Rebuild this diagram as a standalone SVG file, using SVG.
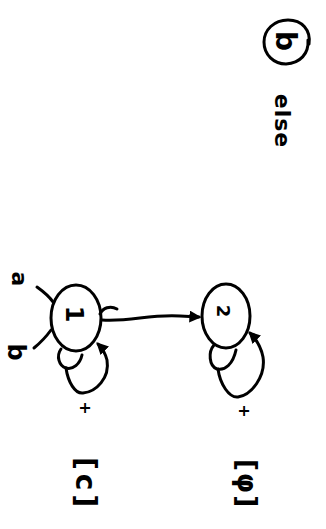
<svg xmlns="http://www.w3.org/2000/svg" width="326" height="529" viewBox="0 0 326 529">
  <style>
    .ink { fill: none; stroke: #000; stroke-width: 3; stroke-linecap: round; stroke-linejoin: round; }
    .hand { font-family: "DejaVu Sans", "Liberation Sans", sans-serif; font-weight: bold; fill: #000; }
  </style>
  <defs>
    <marker id="head" viewBox="0 0 10 10" refX="8" refY="5" markerWidth="4" markerHeight="4" orient="auto" markerUnits="strokeWidth">
      <path d="M0,0 L10,5 L0,10 Z" fill="#000"/>
    </marker>
  </defs>

  <!-- heading: circled "b" and "else", written sideways -->
  <g id="heading">
    <path class="ink" d="M309,44 C311,30 302,20 288,20 C274,20 264,30 264,42 C264,55 274,64 286,64 C300,63 309,54 308,40"/>
    <text class="hand" font-size="28" text-anchor="middle" transform="translate(276,41) rotate(90)">b</text>
    <text class="hand" font-size="22" letter-spacing="1" text-anchor="middle" transform="translate(275,121) rotate(90)">else</text>
  </g>

  <!-- state 1 -->
  <g id="node-1">
    <ellipse class="ink" cx="76" cy="318" rx="25" ry="33"/>
    <text class="hand" font-size="24" text-anchor="middle" transform="translate(66,314) rotate(90)">1</text>
  </g>

  <!-- state 2 -->
  <g id="node-2">
    <ellipse class="ink" cx="226" cy="316" rx="24" ry="32"/>
    <text class="hand" font-size="18" text-anchor="middle" transform="translate(217,311) rotate(90)">2</text>
  </g>

  <!-- transitions -->
  <g id="connectors">
    <!-- incoming strokes labelled a and b -->
    <path class="ink" d="M37,287 C44,292 49,296 53,302"/>
    <path class="ink" d="M34,348 C40,343 46,337 51,330"/>
    <!-- small hook on the right of state 1 -->
    <path class="ink" d="M100,314 C103,308 110,305 117,309"/>
    <!-- 1 -> 2 -->
    <path class="ink" marker-end="url(#head)" d="M102,320 C130,322 150,314 180,316 L199,317"/>
    <!-- self-loop on state 1 -->
    <path class="ink" d="M61,349 C56,356 59,366 66,368 C73,370 80,364 82,355"/>
    <path class="ink" marker-end="url(#head)" d="M66,368 C68,382 75,394 83,393 C96,392 110,378 107,360 C105,352 102,348 98,344"/>
    <!-- self-loop on state 2 -->
    <path class="ink" d="M214,345 C208,352 209,366 217,369 C225,371 233,364 236,350"/>
    <path class="ink" marker-end="url(#head)" d="M218,369 C220,384 229,398 238,397 C251,395 266,377 263,357 C261,347 256,339 250,333"/>
  </g>

  <!-- edge labels and outputs -->
  <g id="labels">
    <text class="hand" font-size="22" text-anchor="middle" transform="translate(12,279) rotate(90)">a</text>
    <text class="hand" font-size="24" text-anchor="middle" transform="translate(8,352) rotate(90)">b</text>
    <text class="hand" font-size="16" text-anchor="middle" transform="translate(80,408) rotate(90)">+</text>
    <text class="hand" font-size="16" text-anchor="middle" transform="translate(239,411) rotate(90)">+</text>
    <text class="hand" font-size="28" letter-spacing="4" text-anchor="middle" transform="translate(76,484) rotate(90)">[c]</text>
    <text class="hand" font-size="26" letter-spacing="2" text-anchor="middle" transform="translate(238,484) rotate(90)">[φ]</text>
  </g>
</svg>
